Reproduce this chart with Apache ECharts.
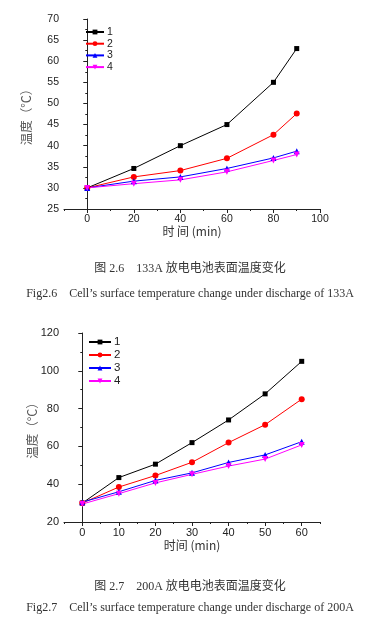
<!DOCTYPE html>
<html>
<head>
<meta charset="utf-8">
<script src="https://cdn.jsdelivr.net/npm/echarts@6/dist/echarts.min.js"></script>
<style>
html,body{margin:0;padding:0;background:#fff;}
#c{width:380px;height:620px;}
</style>
</head>
<body>
<div id="c"></div>
<script>
// Chart 1 (133A)
var time1 = [0, 20, 40, 60, 80, 90];
var a1 = [30, 34.6, 40, 45, 55, 63];
var a2 = [30, 32.6, 34.1, 37, 42.6, 47.6];
var a3 = [30, 31.6, 32.6, 34.6, 37.1, 38.7];
var a4 = [30, 31, 31.9, 33.8, 36.5, 37.9];
var xTicks1 = [0, 20, 40, 60, 80, 100];

// Chart 2 (200A)
var time2 = [0, 10, 20, 30, 40, 50, 60];
var b1 = [30, 43.5, 50.6, 62, 74, 87.8, 105];
var b2 = [30, 38.5, 44.6, 51.6, 62, 71.5, 85];
var b3 = [30.5, 36, 42, 46, 51.5, 55.5, 62.5];
var b4 = [29.5, 35, 40.7, 45.2, 49.6, 53.3, 60.8];
var xTicks2 = [0, 10, 20, 30, 40, 50, 60];

var names = ['1', '2', '3', '4'];
var colors = ['#000000', '#ff0000', '#0000ff', '#ff00ff'];
var symbols = ['rect', 'circle', 'triangle', 'path://M0,0 L10,0 L5,9 Z'];

function pairs(xs, ys) { return xs.map(function (x, i) { return [x, ys[i]]; }); }

var axisCol = '#222';
var lblFont = 'Liberation Sans, Arial, sans-serif';

function minorX(grid, min, max, step) {
  return {
    type: 'value', gridIndex: grid, min: min, max: max, interval: step, position: 'bottom',
    axisLine: { show: true, lineStyle: { color: axisCol, width: 1 } },
    axisTick: { show: true, length: 2, lineStyle: { color: axisCol } },
    axisLabel: { show: false }, splitLine: { show: false }
  };
}
function majorX(grid, min, max, ticks, fs, name, nameGap) {
  return {
    type: 'value', gridIndex: grid, min: min, max: max, position: 'bottom',
    axisLine: { show: false },
    axisTick: { show: true, length: 4, customValues: ticks, lineStyle: { color: axisCol } },
    axisLabel: { show: true, customValues: ticks, color: '#222', fontSize: fs, fontFamily: lblFont, margin: 5 },
    splitLine: { show: false },
    name: name, nameLocation: 'middle', nameGap: nameGap, nameMoveOverlap: false,
    nameTextStyle: { color: '#333', fontSize: 12, fontFamily: 'Noto Sans CJK SC, sans-serif' }
  };
}
function yAx(grid, min, max, step, fs, name, nameGap) {
  return {
    type: 'value', gridIndex: grid, min: min, max: max, interval: step,
    axisLine: { show: true, lineStyle: { color: axisCol, width: 1 } },
    axisTick: { show: true, length: 4, lineStyle: { color: axisCol } },
    minorTick: { show: true, splitNumber: 2, length: 2, lineStyle: { color: axisCol } },
    axisLabel: { color: '#222', fontSize: fs, fontFamily: lblFont, margin: 5 },
    splitLine: { show: false },
    name: name, nameLocation: 'middle', nameGap: nameGap, nameRotate: 90, nameMoveOverlap: false,
    nameTextStyle: { color: '#555', fontSize: 12.5, fontFamily: 'Noto Sans CJK SC, sans-serif' }
  };
}

var series = [];
[[a1, a2, a3, a4], [b1, b2, b3, b4]].forEach(function (set, g) {
  var xs = g === 0 ? time1 : time2;
  set.forEach(function (ys, i) {
    series.push({
      type: 'line', name: names[i], xAxisIndex: g * 2 + 1, yAxisIndex: g,
      data: pairs(xs, ys), symbol: symbols[i], symbolSize: i === 0 ? 5 : 6,
      lineStyle: { color: colors[i], width: 1 }, itemStyle: { color: colors[i] },
      animation: false
    });
  });
});

var capStyle = { color: '#333', fontSize: 12, fontWeight: 'normal', fontFamily: 'Liberation Serif, Times New Roman, Noto Sans CJK SC, serif' };

var option = {
  backgroundColor: '#fff',
  animation: false,
  title: [
    { text: '图 2.6    133A 放电电池表面温度变化', left: 'center', top: 258, textStyle: capStyle },
    { text: 'Fig2.6    Cell\u2019s surface temperature change under discharge of 133A', left: 'center', top: 283, textStyle: capStyle },
    { text: '图 2.7    200A 放电电池表面温度变化', left: 'center', top: 576, textStyle: capStyle },
    { text: 'Fig2.7    Cell\u2019s surface temperature change under discharge of 200A', left: 'center', top: 597, textStyle: capStyle }
  ],
  legend: [
    { data: names, orient: 'vertical', left: 85, top: 26.5, padding: 0, itemWidth: 18, itemHeight: 6, itemGap: 0.7,
      textStyle: { fontSize: 10.5, lineHeight: 11, color: '#222', fontFamily: lblFont, padding: [0, 0, 0, -2] } },
    { data: names, orient: 'vertical', left: 88, top: 336, padding: 0, itemWidth: 22, itemHeight: 6, itemGap: 1,
      textStyle: { fontSize: 11.5, lineHeight: 12, color: '#222', fontFamily: lblFont, padding: [0, 0, 0, -2] } }
  ],
  grid: [
    { left: 64, top: 19, width: 256, height: 190 },
    { left: 64, top: 333, width: 256, height: 189 }
  ],
  xAxis: [
    minorX(0, -10, 100, 10),
    majorX(0, -10, 100, xTicks1, 10.5, '时 间 (min)', 16),
    minorX(1, -5, 65, 5),
    majorX(1, -5, 65, xTicks2, 11, '时间 (min)', 17)
  ],
  yAxis: [
    yAx(0, 25, 70, 5, 10.5, '温度（℃）', 31),
    yAx(1, 20, 120, 20, 11, '温度（°C）', 25)
  ],
  series: series
};

var chart = echarts.init(document.getElementById('c'), null, { renderer: 'canvas' });
chart.setOption(option);
</script>
</body>
</html>
